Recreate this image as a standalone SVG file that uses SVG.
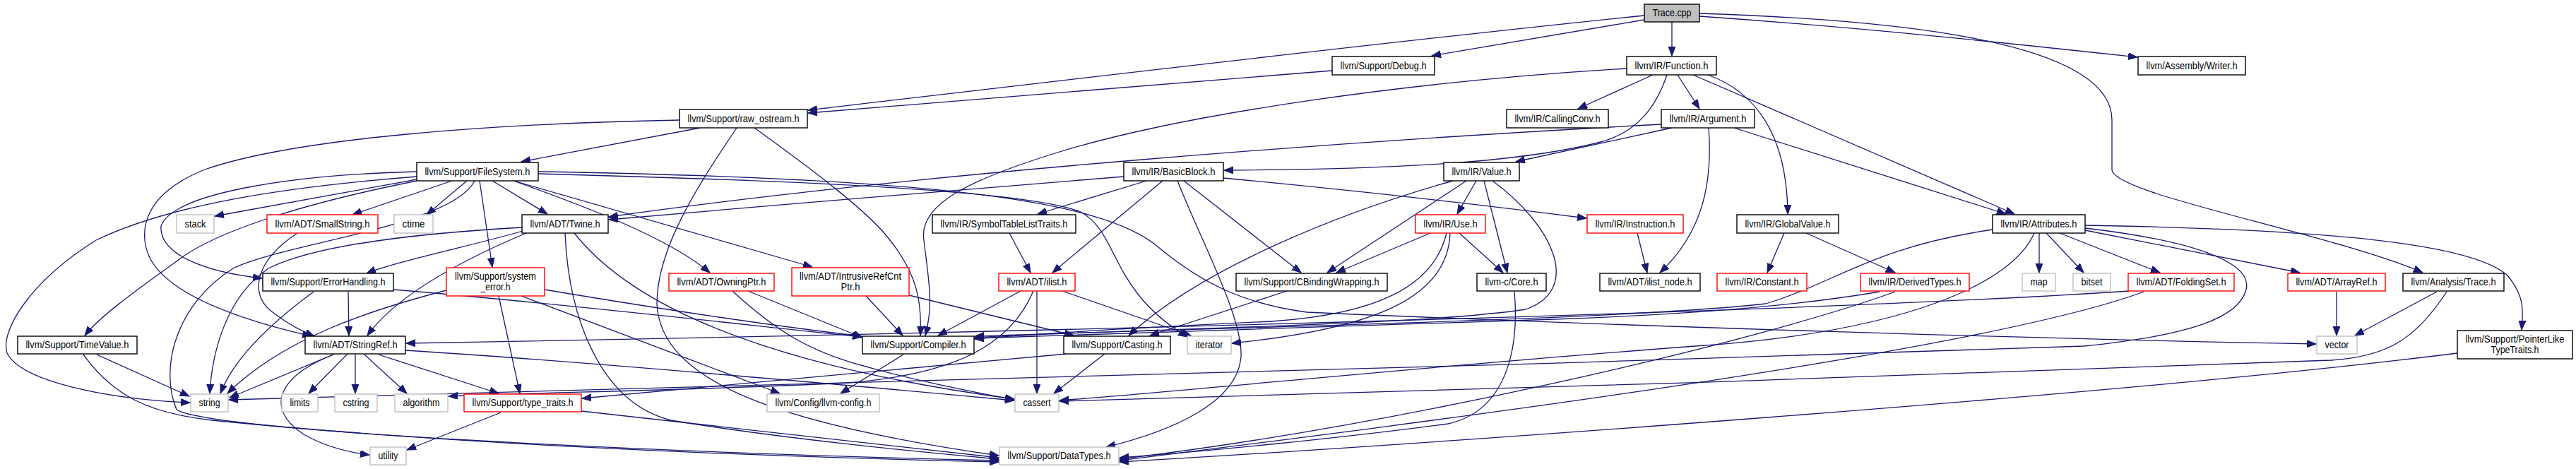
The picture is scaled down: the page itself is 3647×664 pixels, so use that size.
<svg xmlns="http://www.w3.org/2000/svg" width="3647" height="664" viewBox="0 0 3647 664">
<style>
.bg{fill:#ffffff}
.e{fill:none;stroke:#191970;stroke-width:1.3;marker-end:url(#ah)}
.n rect{fill:#ffffff;stroke:#000000;stroke-width:1.4}
.r rect{fill:#ffffff;stroke:#ff0000;stroke-width:1.4}
.g rect{fill:#ffffff;stroke:#bfbfbf;stroke-width:1.4}
.root rect{fill:#bfbfbf;stroke:#000000;stroke-width:1.4}
text{font-family:"Liberation Sans",Arial,Helvetica,sans-serif;font-size:14px;fill:#000000;text-anchor:middle}
</style>
<defs>
<marker id="ah" markerUnits="userSpaceOnUse" markerWidth="14" markerHeight="11" refX="13" refY="5" orient="auto">
<path d="M0,0 L13,5 L0,10 z" fill="#191970" stroke="#191970" stroke-width="1"/>
</marker>
</defs>
<rect class="bg" x="0" y="0" width="3647" height="664"/>
<g id="edges">
<path class="e" d="M2328,22 C2000,55 1450,120 1144,156"/>
<path class="e" d="M2328,28 L2027,79"/>
<path class="e" d="M2367,31 L2367,79"/>
<path class="e" d="M2406,23 C2650,40 2850,62 3026,81"/>
<path class="e" d="M2406,19 C2750,30 2990,70 2990,170 L2990,240 C2990,275 3300,330 3430,386"/>
<path class="e" d="M1886,100 C1650,118 1400,140 1144,160"/>
<path class="e" d="M2340,106 L2234,154"/>
<path class="e" d="M2375,106 L2406,154"/>
<path class="e" d="M2303,97 C2000,115 1680,160 1500,215 C1370,255 1300,290 1308,340 C1315,400 1322,430 1310,475"/>
<path class="e" d="M2360,106 C2345,150 2320,185 2270,200 C2150,232 1950,240 1733,241"/>
<path class="e" d="M2397,106 L2852,303"/>
<path class="e" d="M2418,106 C2485,130 2530,190 2531,303"/>
<path class="e" d="M2455,181 L2840,303"/>
<path class="e" d="M2367,181 L2146,229"/>
<path class="e" d="M2419,181 C2425,260 2410,330 2350,386"/>
<path class="e" d="M2352,176 C1900,200 1300,245 862,307"/>
<path class="e" d="M1591,250 C1400,265 1100,290 862,311"/>
<path class="e" d="M1623,256 L1469,303"/>
<path class="e" d="M1646,256 L1490,386"/>
<path class="e" d="M1732,252 C1900,268 2100,290 2246,309"/>
<path class="e" d="M1667,256 C1700,340 1760,450 1757,505 C1752,570 1660,610 1566,633"/>
<path class="e" d="M1676,256 L1842,386"/>
<path class="e" d="M762,246 C1100,255 1450,268 1530,300 C1585,330 1570,410 1681,477"/>
<path class="e" d="M762,243 C1300,252 1560,280 1640,350 C1700,400 1760,430 1850,442 C2300,462 2900,480 3279,487"/>
<path class="e" d="M1504,412 L1686,475"/>
<path class="e" d="M1445,412 L1328,475"/>
<path class="e" d="M1468,412 L1468,557"/>
<path class="e" d="M1463,412 C1430,490 1350,530 1200,542 C1000,552 750,556 635,561"/>
<path class="e" d="M1429,330 L1459,386"/>
<path class="e" d="M1564,501 L1492,557"/>
<path class="e" d="M1510,501 C1300,520 1000,548 824,564"/>
<path class="e" d="M1822,412 L1628,475"/>
<path class="e" d="M2057,256 C1900,300 1700,380 1598,475"/>
<path class="e" d="M2076,256 L1879,386"/>
<path class="e" d="M2090,256 L2063,303"/>
<path class="e" d="M2101,256 L2134,386"/>
<path class="e" d="M2113,256 C2200,320 2240,410 2160,438 C2000,462 1600,465 1380,478"/>
<path class="e" d="M2025,330 L1892,386"/>
<path class="e" d="M2066,330 L2128,386"/>
<path class="e" d="M2048,330 C2030,405 1950,445 1800,455 C1650,462 1500,470 1380,480"/>
<path class="e" d="M2053,330 C2050,420 1950,465 1744,486"/>
<path class="e" d="M2318,330 L2332,386"/>
<path class="e" d="M2526,330 L2502,386"/>
<path class="e" d="M2557,330 L2683,386"/>
<path class="e" d="M2887,330 L2887,386"/>
<path class="e" d="M2897,330 L2950,386"/>
<path class="e" d="M2916,330 L3058,386"/>
<path class="e" d="M2952,326 L3256,386"/>
<path class="e" d="M2952,319 C3300,325 3500,345 3550,390 C3575,420 3572,440 3570,467"/>
<path class="e" d="M2821,325 C2650,350 2600,400 2500,430 C2300,452 1800,462 1380,476"/>
<path class="e" d="M2880,330 C2850,400 2700,470 2400,490 C2000,520 1700,552 1500,567"/>
<path class="e" d="M2952,323 C3100,340 3190,370 3180,410 C3170,450 3100,475 2950,490 C2000,525 800,548 324,566"/>
<path class="e" d="M991,181 L738,229"/>
<path class="e" d="M962,170 C700,175 420,195 290,240 C190,280 200,340 212,365 C240,420 350,455 441,476"/>
<path class="e" d="M1043,181 C990,260 930,350 930,430 C935,540 1100,600 1414,645"/>
<path class="e" d="M1068,181 C1150,240 1230,300 1260,340 C1300,390 1305,430 1303,475"/>
<path class="e" d="M590,250 C400,265 240,290 136,340 C40,400 0,470 10,500 C30,540 150,565 269,570"/>
<path class="e" d="M672,256 C640,320 400,345 330,380 C250,430 225,520 250,580 C300,610 900,640 1414,652"/>
<path class="e" d="M590,243 C400,248 245,275 228,320 C225,360 290,385 371,394"/>
<path class="e" d="M590,254 L304,306"/>
<path class="e" d="M640,256 L499,304"/>
<path class="e" d="M661,256 L604,304"/>
<path class="e" d="M590,256 C420,290 300,330 250,370 C180,420 140,450 120,475"/>
<path class="e" d="M679,256 L697,378"/>
<path class="e" d="M697,256 L775,303"/>
<path class="e" d="M727,256 C850,300 950,340 1005,386"/>
<path class="e" d="M727,256 L1150,378"/>
<path class="e" d="M421,330 C360,370 350,420 390,445 C410,460 425,468 445,476"/>
<path class="e" d="M745,330 C650,370 560,420 520,475"/>
<path class="e" d="M740,327 C680,345 560,370 519,387"/>
<path class="e" d="M739,322 C600,330 450,345 380,380 C320,420 300,500 297,557"/>
<path class="e" d="M800,330 C805,450 850,570 950,595 C1100,620 1300,640 1414,650"/>
<path class="e" d="M813,330 C900,440 1100,520 1436,565"/>
<path class="e" d="M557,410 C800,430 1100,465 1220,477"/>
<path class="e" d="M493,413 L494,475"/>
<path class="e" d="M444,413 C380,460 330,510 312,557"/>
<path class="e" d="M472,502 L325,563"/>
<path class="e" d="M491,502 L437,557"/>
<path class="e" d="M503,502 L503,557"/>
<path class="e" d="M516,502 L576,557"/>
<path class="e" d="M472,502 C400,530 370,575 430,615 C460,632 490,640 523,644"/>
<path class="e" d="M536,502 L706,557"/>
<path class="e" d="M574,496 C800,510 1200,545 1436,567"/>
<path class="e" d="M771,410 C950,440 1100,462 1220,476"/>
<path class="e" d="M706,419 L736,557"/>
<path class="e" d="M738,419 L1104,557"/>
<path class="e" d="M632,411 C520,440 400,480 322,557"/>
<path class="e" d="M1059,412 L1221,478"/>
<path class="e" d="M1037,412 C1100,470 1150,500 1230,520 C1300,540 1380,555 1436,566"/>
<path class="e" d="M1226,419 L1278,475"/>
<path class="e" d="M1287,418 L1520,475"/>
<path class="e" d="M1279,502 L1190,557"/>
<path class="e" d="M709,584 L576,637"/>
<path class="e" d="M823,582 L1414,648"/>
<path class="e" d="M137,502 L268,561"/>
<path class="e" d="M118,502 C160,560 210,585 300,595 C600,625 1000,645 1414,654"/>
<path class="e" d="M2144,413 C2150,480 2140,580 2050,600 C1900,620 1700,640 1585,648"/>
<path class="e" d="M2661,413 C2550,432 2400,445 2200,452 C1900,462 1600,470 1380,479"/>
<path class="e" d="M2683,413 C2500,480 2000,600 1585,650"/>
<path class="e" d="M3015,412 C2600,440 1500,470 575,486"/>
<path class="e" d="M3035,413 C2800,500 2000,600 1585,652"/>
<path class="e" d="M3308,413 L3308,475"/>
<path class="e" d="M3450,413 L3334,475"/>
<path class="e" d="M3464,413 C3420,480 3380,505 3300,510 C2800,530 2000,555 1500,568"/>
<path class="e" d="M3479,500 C3000,560 2000,630 1585,654"/>
</g>
<g id="node-trace_cpp" class="root"><rect x="2328" y="6" width="78" height="25"/><text x="2367" y="23" textLength="55" lengthAdjust="spacingAndGlyphs">Trace.cpp</text></g>
<g id="node-debug" class="n"><rect x="1886" y="80" width="145" height="26"/><text x="1958.5" y="97.5" textLength="122" lengthAdjust="spacingAndGlyphs">llvm/Support/Debug.h</text></g>
<g id="node-function" class="n"><rect x="2303" y="80" width="127" height="26"/><text x="2366.5" y="97.5" textLength="104" lengthAdjust="spacingAndGlyphs">llvm/IR/Function.h</text></g>
<g id="node-writer" class="n"><rect x="3027" y="80" width="152" height="26"/><text x="3103" y="97.5" textLength="129" lengthAdjust="spacingAndGlyphs">llvm/Assembly/Writer.h</text></g>
<g id="node-raw_ostream" class="n"><rect x="962" y="155" width="181" height="26"/><text x="1052.5" y="172.5" textLength="158" lengthAdjust="spacingAndGlyphs">llvm/Support/raw_ostream.h</text></g>
<g id="node-callingconv" class="n"><rect x="2133" y="155" width="144" height="26"/><text x="2205" y="172.5" textLength="121" lengthAdjust="spacingAndGlyphs">llvm/IR/CallingConv.h</text></g>
<g id="node-argument" class="n"><rect x="2352" y="155" width="132" height="26"/><text x="2418" y="172.5" textLength="109" lengthAdjust="spacingAndGlyphs">llvm/IR/Argument.h</text></g>
<g id="node-filesystem" class="n"><rect x="590" y="230" width="172" height="26"/><text x="676" y="247.5" textLength="149" lengthAdjust="spacingAndGlyphs">llvm/Support/FileSystem.h</text></g>
<g id="node-basicblock" class="n"><rect x="1591" y="230" width="141" height="26"/><text x="1661.5" y="247.5" textLength="118" lengthAdjust="spacingAndGlyphs">llvm/IR/BasicBlock.h</text></g>
<g id="node-value" class="n"><rect x="2044" y="230" width="107" height="26"/><text x="2097.5" y="247.5" textLength="84" lengthAdjust="spacingAndGlyphs">llvm/IR/Value.h</text></g>
<g id="node-stack" class="g"><rect x="250" y="304" width="53" height="26"/><text x="276.5" y="321.5" textLength="30" lengthAdjust="spacingAndGlyphs">stack</text></g>
<g id="node-smallstring" class="r"><rect x="378" y="304" width="157" height="26"/><text x="456.5" y="321.5" textLength="134" lengthAdjust="spacingAndGlyphs">llvm/ADT/SmallString.h</text></g>
<g id="node-ctime" class="g"><rect x="558" y="304" width="55" height="26"/><text x="585.5" y="321.5" textLength="32" lengthAdjust="spacingAndGlyphs">ctime</text></g>
<g id="node-twine" class="n"><rect x="739" y="304" width="122" height="26"/><text x="800" y="321.5" textLength="99" lengthAdjust="spacingAndGlyphs">llvm/ADT/Twine.h</text></g>
<g id="node-symtab" class="n"><rect x="1320" y="304" width="203" height="26"/><text x="1421.5" y="321.5" textLength="180" lengthAdjust="spacingAndGlyphs">llvm/IR/SymbolTableListTraits.h</text></g>
<g id="node-use" class="r"><rect x="2004" y="304" width="99" height="26"/><text x="2053.5" y="321.5" textLength="76" lengthAdjust="spacingAndGlyphs">llvm/IR/Use.h</text></g>
<g id="node-instruction" class="r"><rect x="2247" y="304" width="136" height="26"/><text x="2315" y="321.5" textLength="113" lengthAdjust="spacingAndGlyphs">llvm/IR/Instruction.h</text></g>
<g id="node-globalvalue" class="n"><rect x="2459" y="304" width="144" height="26"/><text x="2531" y="321.5" textLength="121" lengthAdjust="spacingAndGlyphs">llvm/IR/GlobalValue.h</text></g>
<g id="node-attributes" class="n"><rect x="2821" y="304" width="131" height="26"/><text x="2886.5" y="321.5" textLength="108" lengthAdjust="spacingAndGlyphs">llvm/IR/Attributes.h</text></g>
<g id="node-errorhandling" class="n"><rect x="372" y="387" width="185" height="25"/><text x="464.5" y="404" textLength="162" lengthAdjust="spacingAndGlyphs">llvm/Support/ErrorHandling.h</text></g>
<g id="node-system_error" class="r"><rect x="632" y="379" width="139" height="40"/><text x="701.5" y="396" textLength="115" lengthAdjust="spacingAndGlyphs">llvm/Support/system</text><text x="701.5" y="411" textLength="42" lengthAdjust="spacingAndGlyphs">_error.h</text></g>
<g id="node-owningptr" class="r"><rect x="947" y="387" width="149" height="25"/><text x="1021.5" y="404" textLength="126" lengthAdjust="spacingAndGlyphs">llvm/ADT/OwningPtr.h</text></g>
<g id="node-intrusiverefcntptr" class="r"><rect x="1121" y="379" width="166" height="40"/><text x="1204" y="396" textLength="144" lengthAdjust="spacingAndGlyphs">llvm/ADT/IntrusiveRefCnt</text><text x="1204" y="411" textLength="27" lengthAdjust="spacingAndGlyphs">Ptr.h</text></g>
<g id="node-ilist" class="r"><rect x="1414" y="387" width="108" height="25"/><text x="1468" y="404" textLength="85" lengthAdjust="spacingAndGlyphs">llvm/ADT/ilist.h</text></g>
<g id="node-cbindingwrapping" class="n"><rect x="1750" y="387" width="214" height="25"/><text x="1857" y="404" textLength="191" lengthAdjust="spacingAndGlyphs">llvm/Support/CBindingWrapping.h</text></g>
<g id="node-core" class="n"><rect x="2091" y="387" width="98" height="25"/><text x="2140" y="404" textLength="75" lengthAdjust="spacingAndGlyphs">llvm-c/Core.h</text></g>
<g id="node-ilist_node" class="n"><rect x="2265" y="387" width="142" height="25"/><text x="2336" y="404" textLength="119" lengthAdjust="spacingAndGlyphs">llvm/ADT/ilist_node.h</text></g>
<g id="node-constant" class="r"><rect x="2431" y="387" width="127" height="25"/><text x="2494.5" y="404" textLength="104" lengthAdjust="spacingAndGlyphs">llvm/IR/Constant.h</text></g>
<g id="node-derivedtypes" class="r"><rect x="2634" y="387" width="154" height="25"/><text x="2711" y="404" textLength="131" lengthAdjust="spacingAndGlyphs">llvm/IR/DerivedTypes.h</text></g>
<g id="node-map" class="g"><rect x="2863" y="387" width="47" height="25"/><text x="2886.5" y="404" textLength="24" lengthAdjust="spacingAndGlyphs">map</text></g>
<g id="node-bitset" class="g"><rect x="2935" y="387" width="53" height="25"/><text x="2961.5" y="404" textLength="30" lengthAdjust="spacingAndGlyphs">bitset</text></g>
<g id="node-foldingset" class="r"><rect x="3013" y="387" width="150" height="25"/><text x="3088" y="404" textLength="127" lengthAdjust="spacingAndGlyphs">llvm/ADT/FoldingSet.h</text></g>
<g id="node-arrayref" class="r"><rect x="3239" y="387" width="138" height="25"/><text x="3308" y="404" textLength="115" lengthAdjust="spacingAndGlyphs">llvm/ADT/ArrayRef.h</text></g>
<g id="node-analysis_trace" class="n"><rect x="3402" y="387" width="143" height="25"/><text x="3473.5" y="404" textLength="120" lengthAdjust="spacingAndGlyphs">llvm/Analysis/Trace.h</text></g>
<g id="node-timevalue" class="n"><rect x="25" y="476" width="169" height="25"/><text x="109.5" y="493" textLength="146" lengthAdjust="spacingAndGlyphs">llvm/Support/TimeValue.h</text></g>
<g id="node-stringref" class="n"><rect x="432" y="476" width="142" height="25"/><text x="503" y="493" textLength="119" lengthAdjust="spacingAndGlyphs">llvm/ADT/StringRef.h</text></g>
<g id="node-compiler" class="n"><rect x="1221" y="476" width="158" height="25"/><text x="1300" y="493" textLength="135" lengthAdjust="spacingAndGlyphs">llvm/Support/Compiler.h</text></g>
<g id="node-casting" class="n"><rect x="1506" y="476" width="151" height="25"/><text x="1581.5" y="493" textLength="128" lengthAdjust="spacingAndGlyphs">llvm/Support/Casting.h</text></g>
<g id="node-iterator" class="g"><rect x="1681" y="476" width="62" height="25"/><text x="1712" y="493" textLength="39" lengthAdjust="spacingAndGlyphs">iterator</text></g>
<g id="node-vector" class="g"><rect x="3280" y="476" width="57" height="25"/><text x="3308.5" y="493" textLength="34" lengthAdjust="spacingAndGlyphs">vector</text></g>
<g id="node-pointerliketypetraits" class="n"><rect x="3479" y="468" width="163" height="40"/><text x="3560.5" y="485" textLength="140" lengthAdjust="spacingAndGlyphs">llvm/Support/PointerLike</text><text x="3560.5" y="500" textLength="68" lengthAdjust="spacingAndGlyphs">TypeTraits.h</text></g>
<g id="node-string" class="g"><rect x="270" y="558" width="53" height="25"/><text x="296.5" y="575" textLength="30" lengthAdjust="spacingAndGlyphs">string</text></g>
<g id="node-limits" class="g"><rect x="399" y="558" width="51" height="25"/><text x="424.5" y="575" textLength="28" lengthAdjust="spacingAndGlyphs">limits</text></g>
<g id="node-cstring" class="g"><rect x="474" y="558" width="60" height="25"/><text x="504" y="575" textLength="37" lengthAdjust="spacingAndGlyphs">cstring</text></g>
<g id="node-algorithm" class="g"><rect x="559" y="558" width="75" height="25"/><text x="596.5" y="575" textLength="52" lengthAdjust="spacingAndGlyphs">algorithm</text></g>
<g id="node-type_traits" class="r"><rect x="657" y="558" width="166" height="25"/><text x="740" y="575" textLength="143" lengthAdjust="spacingAndGlyphs">llvm/Support/type_traits.h</text></g>
<g id="node-llvm_config" class="g"><rect x="1086" y="558" width="159" height="25"/><text x="1165.5" y="575" textLength="136" lengthAdjust="spacingAndGlyphs">llvm/Config/llvm-config.h</text></g>
<g id="node-cassert" class="g"><rect x="1437" y="558" width="62" height="25"/><text x="1468" y="575" textLength="39" lengthAdjust="spacingAndGlyphs">cassert</text></g>
<g id="node-utility" class="g"><rect x="524" y="633" width="51" height="25"/><text x="549.5" y="650" textLength="28" lengthAdjust="spacingAndGlyphs">utility</text></g>
<g id="node-datatypes" class="g"><rect x="1415" y="633" width="169" height="25"/><text x="1499.5" y="650" textLength="146" lengthAdjust="spacingAndGlyphs">llvm/Support/DataTypes.h</text></g>
</svg>
